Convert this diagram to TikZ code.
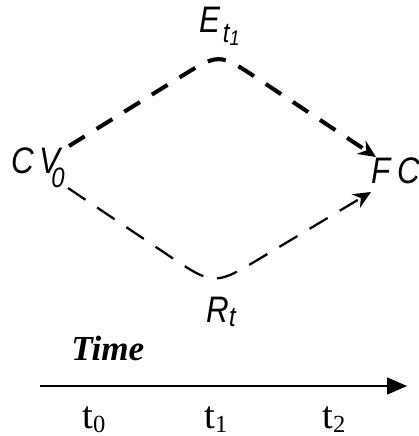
\documentclass[tikz,border=0pt]{standalone}
\usepackage{fontspec}
\setmainfont{Liberation Serif}
\newfontfamily\arialf[FakeStretch=0.85]{Liberation Sans}
\usetikzlibrary{arrows.meta,calc}

\newcommand{\sz}[1]{\fontsize{#1}{#1}\selectfont}

\tikzset{
  lbl/.style={inner sep=0pt, anchor=base west, font=\arialf\itshape\sz{21}},
  tlbl/.style={inner sep=0pt, anchor=base west, font=\sz{22}},
  updash/.style={line width=2.3pt, dash pattern=on 10.5pt off 8pt, -{Stealth[length=10pt,width=9pt]}},
  dndash/.style={line width=1.3pt, dash pattern=on 12pt off 8pt, -{Stealth[length=10pt,width=9pt]}},
  axis/.style={line width=0.9pt, -{Triangle[length=11.3pt,width=9.6pt]}}
}

\begin{document}
\begin{tikzpicture}[x=0.02cm, y=-0.02cm]
  \useasboundingbox (0,0) rectangle (419,436);

  % --- Labels ---
  \node[lbl] (cv) at (11,173) {C\kern3pt V\kern-5pt\raisebox{-8.5pt}{\sz{16}0}};
  \node[lbl] (e) at (199,32) {E\kern1.5pt\raisebox{-6.2pt}{\sz{16}t\raisebox{-1.5pt}{\sz{12}1}}};
  \node[lbl] (r) at (206,322) {R\raisebox{-2.8pt}{\sz{16}t}};
  \node[lbl] (fc) at (371,183) {F\kern4pt C};

  % --- Paths ---
  \coordinate (cvUp) at (69,146);
  \coordinate (eTop) at (219,53);
  \coordinate (fcUp) at (376,157);
  \coordinate (cvDn) at (68,188);
  \coordinate (rBot) at (214,286);
  \coordinate (fcDn) at (371,192);
  \draw[updash] (cvUp) -- ($(eTop)!26pt!(cvUp)$) .. controls (eTop) .. ($(eTop)!26pt!(fcUp)$) -- (fcUp);
  \draw[dndash] (cvDn) -- ($(rBot)!32pt!(cvDn)$) .. controls (rBot) .. ($(rBot)!32pt!(fcDn)$) -- (fcDn);

  % --- Time axis ---
  \node[tlbl, font=\bfseries\itshape\sz{20}] (time) at (71,360) {Time};
  \coordinate (axL) at (40,386);
  \coordinate (axR) at (407,386);
  \draw[axis] (axL) -- (axR);
  \foreach \i/\x in {0/82,1/204,2/322}
    \node[tlbl] (t\i) at (\x,428) {t\raisebox{-2.3pt}{\sz{14}\i}};
\end{tikzpicture}
\end{document}
